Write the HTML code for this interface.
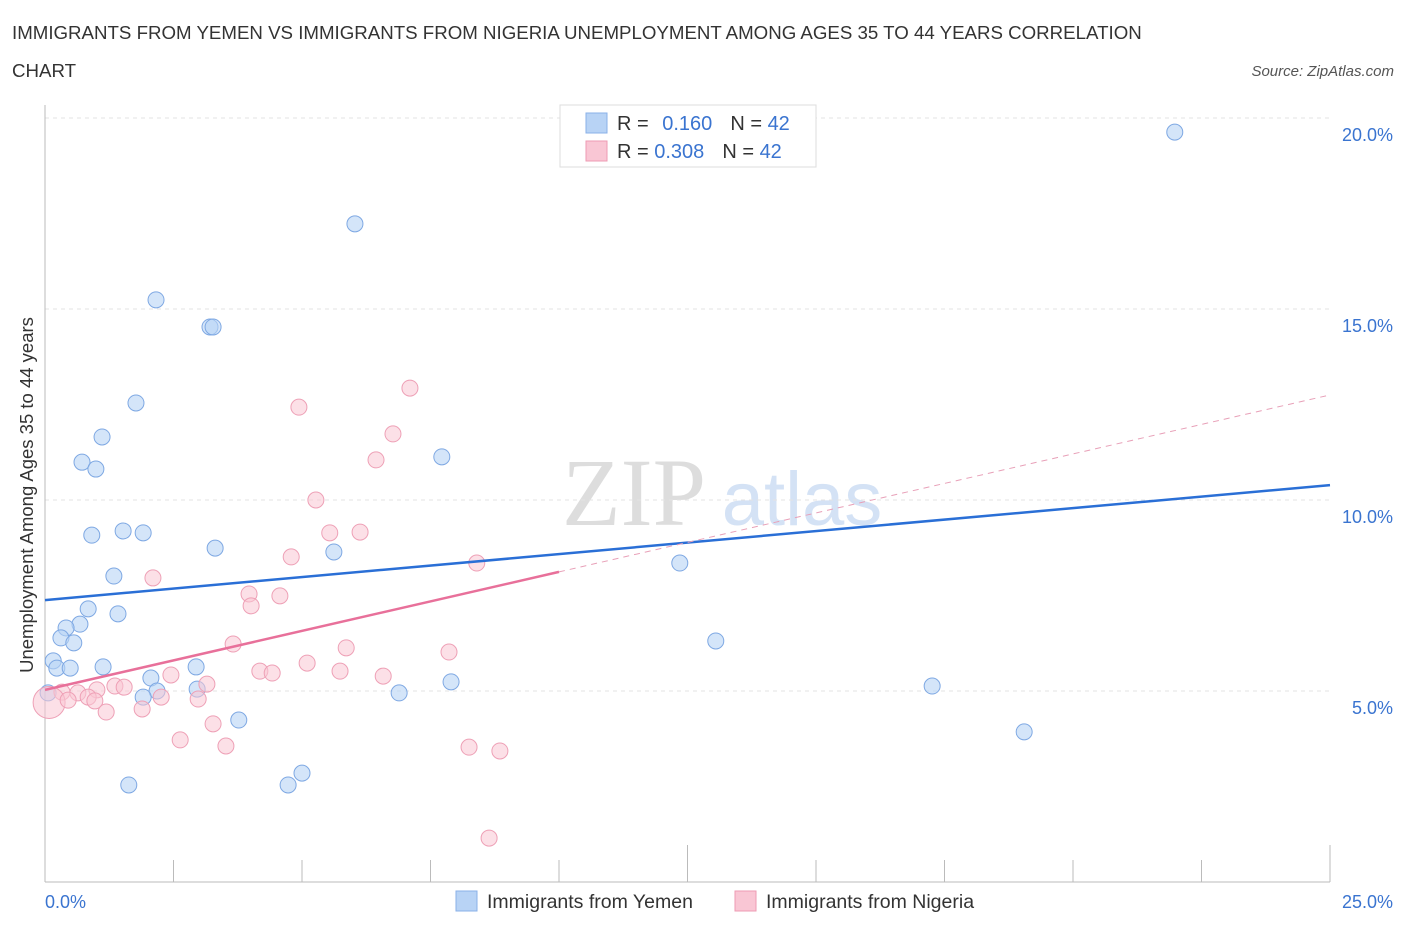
<!DOCTYPE html>
<html><head><meta charset="utf-8"><style>
body{margin:0;background:#fff;font-family:"Liberation Sans",sans-serif;}
svg{display:block}
</style></head><body>
<svg id="chart" width="1406" height="930">
<text x="12" y="39" font-size="18.7" fill="#333">IMMIGRANTS FROM YEMEN VS IMMIGRANTS FROM NIGERIA UNEMPLOYMENT AMONG AGES 35 TO 44 YEARS CORRELATION</text>
<text x="12" y="77" font-size="18.7" fill="#333">CHART</text>
<text x="1394" y="76" font-size="15" fill="#555" font-style="italic" text-anchor="end">Source: ZipAtlas.com</text>
<text x="634" y="525" font-size="96" fill="#ddd" font-family="Liberation Serif,serif" text-anchor="middle">ZIP</text>
<text x="802" y="525" font-size="76" fill="#d4e2f5" text-anchor="middle">atlas</text>
<g id="grid"></g>
<g id="axes"></g>
<g id="marks"></g>
<text transform="translate(33,495) rotate(-90)" font-size="18.5" fill="#333" text-anchor="middle">Unemployment Among Ages 35 to 44 years</text>
<text x="45" y="908" font-size="18" fill="#3a74d0">0.0%</text>
<text x="1393" y="908" font-size="18" fill="#3a74d0" text-anchor="end">25.0%</text>
<g>
<rect x="560" y="105" width="256" height="62" fill="#fff" stroke="#ddd"/>
<rect x="586" y="113" width="21" height="20" fill="#b8d3f5" stroke="#8ab0e8"/>
<rect x="586" y="141" width="21" height="20" fill="#f9c6d4" stroke="#ee9bb3"/>
<text x="617" y="130" font-size="20" fill="#333">R = <tspan fill="#3a74d0" dx="8">0.160</tspan><tspan dx="18" fill="#333">N = </tspan><tspan fill="#3a74d0">42</tspan></text>
<text x="617" y="158" font-size="20" fill="#333">R = <tspan fill="#3a74d0">0.308</tspan><tspan dx="18" fill="#333">N = </tspan><tspan fill="#3a74d0">42</tspan></text>
</g>
<g>
<rect x="456" y="891" width="21" height="20" fill="#b8d3f5" stroke="#8ab0e8"/>
<text x="487" y="908" font-size="19.5" fill="#333">Immigrants from Yemen</text>
<rect x="735" y="891" width="21" height="20" fill="#f9c6d4" stroke="#ee9bb3"/>
<text x="766" y="908" font-size="19.5" fill="#333">Immigrants from Nigeria</text>
</g>
</svg>
<script>
const yTicks=[5,10,15,20];
const yTickLabels=["5.0%","10.0%","15.0%","20.0%"];
const yemenX=[21.98,6.03,2.16,3.21,3.27,1.77,1.11,0.72,0.99,7.72,0.91,1.52,1.91,3.31,5.62,1.34,12.35,0.84,1.42,0.68,0.41,0.31,0.56,13.05,0.16,0.23,0.49,1.13,2.94,2.06,7.90,17.26,2.96,2.18,0.06,6.89,1.91,3.77,19.05,5.00,1.63,4.73];
const yemenY=[19.63,17.23,15.24,14.53,14.53,12.54,11.65,10.99,10.81,11.13,9.08,9.19,9.14,8.74,8.64,8.01,8.35,7.15,7.02,6.75,6.65,6.39,6.26,6.31,5.79,5.60,5.60,5.63,5.63,5.34,5.24,5.13,5.05,5.00,4.95,4.95,4.84,4.24,3.93,2.85,2.54,2.54];
const nigeriaX=[7.10,4.94,6.77,6.44,5.27,5.54,6.13,4.79,8.40,2.10,3.97,4.57,4.01,3.66,5.86,7.86,5.10,4.18,5.74,4.42,6.58,2.45,3.15,1.36,1.54,1.01,0.64,0.33,0.08,0.84,2.26,2.98,0.45,0.97,1.89,1.19,3.27,2.63,3.52,8.25,8.85,8.64];
const nigeriaY=[12.93,12.43,11.73,11.05,10.0,9.14,9.16,8.51,8.35,7.96,7.54,7.49,7.23,6.23,6.13,6.02,5.73,5.52,5.52,5.47,5.39,5.42,5.18,5.13,5.10,5.03,4.95,4.97,4.70,4.84,4.84,4.79,4.76,4.74,4.53,4.45,4.14,3.72,3.56,3.53,3.43,1.15];
const yemenTrend=[7.38,10.39];
const nigeriaTrend=[5.03,12.75];
const nigeriaSolidEnd=10;
const NS="http://www.w3.org/2000/svg";
const X=v=>45+v/25*1285, Y=v=>882-v*38.2;
function mk(tag,attrs,parent){const e=document.createElementNS(NS,tag);for(const k in attrs)e.setAttribute(k,attrs[k]);parent.appendChild(e);return e;}
const gridG=document.getElementById('grid'),axesG=document.getElementById('axes'),marksG=document.getElementById('marks');
yTicks.forEach((t,i)=>{
 const l=mk('line',{x1:45,x2:1330,y1:Y(t),y2:Y(t),stroke:'#e3e3e3','stroke-dasharray':'4,4'},gridG);
 
 
 const tx=mk('text',{x:1393,y:Y(t)+23,'font-size':18,fill:'#3a74d0','text-anchor':'end'},gridG);
 tx.textContent=yTickLabels[i];
 
 
});
const topLine=mk('line',{x1:45,x2:1330,y1:118,y2:118,stroke:'#e3e3e3','stroke-dasharray':'4,4'},gridG);


const ya=mk('line',{x1:45,x2:45,y1:105,y2:882,stroke:'#bbb'},axesG);


const xa=mk('line',{x1:45,x2:1330,y1:882,y2:882,stroke:'#bbb'},axesG);


for(let i=0;i<=10;i++){
 const tk=mk('line',{x1:X(i*2.5),x2:X(i*2.5),y1:882,y2:i%5==0?845:860,stroke:'#bbb'},axesG);
 
 
}
yemenX.forEach((v,i)=>{
 const c=mk('circle',{cx:X(v),cy:Y(yemenY[i]),r:8,fill:'rgba(184,211,245,0.6)',stroke:'#7ea8e3','stroke-width':1},marksG);
 
 
});
nigeriaX.forEach((v,i)=>{
 const c=mk('circle',{cx:X(v),cy:Y(nigeriaY[i]),r:i==28?16:8,fill:'rgba(249,198,212,0.55)',stroke:'#eea0b6','stroke-width':1},marksG);
 
 
});
const yl=mk('line',{x1:X(0),y1:Y(yemenTrend[0]),x2:X(25),y2:Y(yemenTrend[1]),stroke:'#2a6fd6','stroke-width':2.5},marksG);


const nm=nigeriaTrend[0]+(nigeriaTrend[1]-nigeriaTrend[0])*nigeriaSolidEnd/25;
const nl=mk('line',{x1:X(0),y1:Y(nigeriaTrend[0]),x2:X(nigeriaSolidEnd),y2:Y(nm),stroke:'#e8709a','stroke-width':2.5},marksG);


const nd=mk('line',{x1:X(nigeriaSolidEnd),y1:Y(nm),x2:X(25),y2:Y(nigeriaTrend[1]),stroke:'#e8a0b8','stroke-width':1,'stroke-dasharray':'6,5'},marksG);


</script>
</body></html>
